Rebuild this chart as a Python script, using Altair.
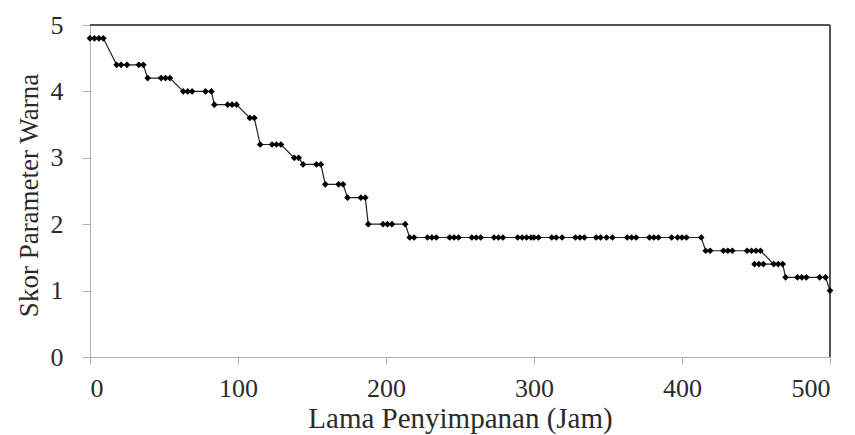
import altair as alt
import pandas as pd

# Data (x = hours, y = score), in drawing order
jam = [0, 3, 6, 9,
       18, 21, 25, 33, 36,
       39, 48, 51, 54,
       63, 66, 69, 78, 82,
       84, 93, 96, 99,
       108, 111,
       115, 123, 126, 129,
       138, 141,
       144, 153, 156,
       159, 168, 171,
       174, 183, 186,
       188, 198, 201, 204, 213,
       216, 219, 228, 231, 234, 243, 246, 249, 258, 261, 264, 273, 276, 279,
       289, 292, 295, 298, 300, 303, 312, 315, 319, 328, 331, 334,
       342, 345, 349, 353, 363, 366, 369, 378, 381, 384, 393, 397, 400, 403, 413,
       416, 419, 428, 431, 434, 444, 447, 450, 453,
       462, 455, 452, 449, 465, 468,
       470, 478, 481, 484, 493, 497,
       500]
skor = [4.8] * 4 + [4.4] * 5 + [4.2] * 4 + [4.0] * 5 + [3.8] * 4 + [3.6] * 2 + \
       [3.2] * 4 + [3.0] * 2 + [2.9] * 3 + [2.6] * 3 + [2.4] * 3 + [2.0] * 5 + \
       [1.8] * 41 + [1.6] * 9 + [1.4] * 6 + [1.2] * 6 + [1.0]

x_ticks = [0, 100, 200, 300, 400, 500]
y_ticks = [0, 1, 2, 3, 4, 5]

df = pd.DataFrame({"jam": jam, "skor": skor, "urut": list(range(len(jam)))})

FONT = "Liberation Serif"
TXT = "#2b2b2b"
W, H = 740, 332

xenc = alt.X("jam:Q", scale=alt.Scale(domain=[0, 500], nice=False),
             axis=alt.Axis(values=x_ticks, title="Lama Penyimpanan (Jam)", grid=False,
                           domainColor="#b0b0b0", tickColor="#b0b0b0", tickSize=7,
                           labelFont=FONT, labelFontSize=26, labelColor=TXT,
                           labelBaseline="alphabetic", labelPadding=32,
                           titleFont=FONT, titleFontSize=29, titleFontWeight="normal",
                           titleColor=TXT, titleBaseline="alphabetic", titleY=70,
                           titleX=W / 2))
yenc = alt.Y("skor:Q", scale=alt.Scale(domain=[0, 5], nice=False),
             axis=alt.Axis(values=y_ticks, title="Skor Parameter Warna", grid=False,
                           domainColor="#b0b0b0", tickColor="#b0b0b0", tickSize=8,
                           labelFont=FONT, labelFontSize=26, labelColor=TXT,
                           labelPadding=19,
                           titleFont=FONT, titleFontSize=27, titleFontWeight="normal",
                           titleColor=TXT, titleBaseline="alphabetic", titleAngle=-90,
                           titleX=-53, titleY=170))

base = alt.Chart(df)
line = base.mark_line(color="#222222", strokeWidth=1.2).encode(x=xenc, y=yenc, order="urut:Q")
pts = base.mark_point(shape="diamond", filled=True, color="#000000", size=45, opacity=1).encode(
    x=xenc, y=yenc)

top_border = alt.Chart(df).mark_rule(color="#555555", strokeWidth=1.5).encode(
    x=alt.value(0), x2=alt.value(W), y=alt.value(0))
right_border = alt.Chart(df).mark_rule(color="#555555", strokeWidth=1.5).encode(
    x=alt.value(W), y=alt.value(0), y2=alt.value(H))

chart = alt.layer(top_border, right_border, line, pts).properties(
    width=W, height=H,
    autosize=alt.AutoSizeParams(type="none"),
    padding={"left": 82, "top": 17, "right": 15, "bottom": 77},
    background="white",
).configure(font=FONT).configure_view(stroke=None)

chart.save("out.html", embed_options={"renderer": "svg", "actions": False})
